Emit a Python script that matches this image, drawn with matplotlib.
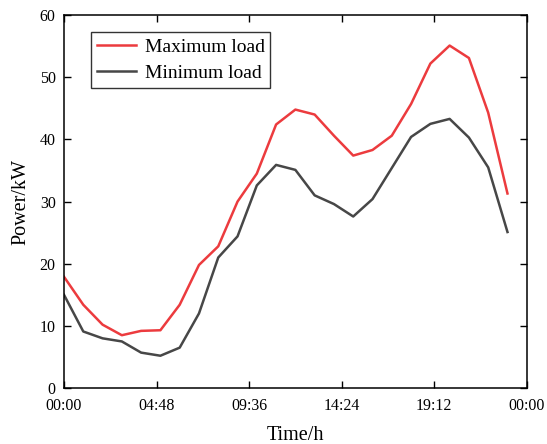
import matplotlib
matplotlib.use("Agg")
import matplotlib.pyplot as plt

hours = list(range(24))
max_load = [17.9, 13.4, 10.2, 8.5, 9.2, 9.3, 13.4, 19.8, 22.8, 30.0, 34.5, 42.4,
            44.8, 44.0, 40.6, 37.4, 38.3, 40.6, 45.7, 52.2, 55.1, 53.1, 44.3, 31.3]
min_load = [15.0, 9.1, 8.0, 7.5, 5.7, 5.2, 6.5, 12.0, 21.0, 24.4, 32.6, 35.9,
            35.1, 31.0, 29.6, 27.6, 30.4, 35.4, 40.4, 42.5, 43.3, 40.3, 35.5, 25.1]
xtick_pos = [0, 4.8, 9.6, 14.4, 19.2, 24]
xtick_labels = ["00:00", "04:48", "09:36", "14:24", "19:12", "00:00"]
yticks = [0, 10, 20, 30, 40, 50, 60]

plt.rcParams['font.family'] = ['Liberation Serif', 'DejaVu Serif']
fig = plt.figure(figsize=(5.47, 4.44), dpi=100)
ax = fig.add_axes([0.117, 0.126, 0.846, 0.840])
ax.plot(hours, max_load, color='#ec3b3e', lw=1.8, label='Maximum load')
ax.plot(hours, min_load, color='#474747', lw=1.8, label='Minimum load')
ax.set_xlim(0, 24)
ax.set_ylim(0, 60)
ax.set_xticks(xtick_pos)
ax.set_xticklabels(xtick_labels)
ax.set_yticks(yticks)
ax.tick_params(direction='in', top=True, right=True, length=5, width=1, labelsize=11.5)
ax.tick_params(axis='x', labeltop=False, pad=7.5)
ax.tick_params(axis='y', labelright=False, pad=6)
for s in ax.spines.values():
    s.set_linewidth(1.1)
ax.set_xlabel('Time/h', fontsize=14.5, labelpad=8)
ax.set_ylabel('Power/kW', fontsize=14.5, labelpad=7)
leg = ax.legend(loc='upper left', bbox_to_anchor=(0.058, 0.954), borderaxespad=0,
                fontsize=14, frameon=True, fancybox=False, edgecolor='black',
                handlelength=2.0, borderpad=0.3, labelspacing=0.45, handletextpad=0.46)
leg.get_frame().set_linewidth(1.0)
fig.savefig('out.png', dpi=100)
